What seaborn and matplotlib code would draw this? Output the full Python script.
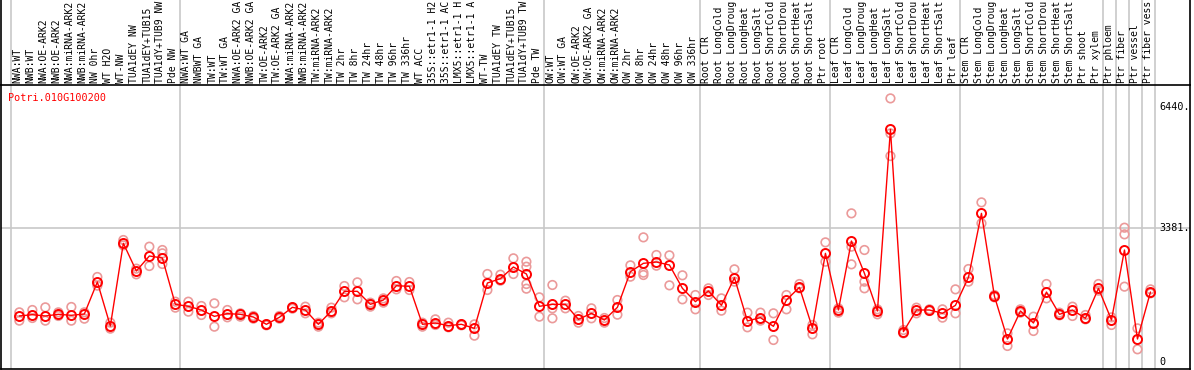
import numpy as np
import pandas as pd
import matplotlib
matplotlib.use("Agg")
import matplotlib.pyplot as plt
import seaborn as sns

sns.set_style("white")
plt.rcParams["font.family"] = ["DejaVu Sans Mono"]

gene = "Potri.010G100200"

# sample names as they appear (cut to the width of the label strip)
samples = [
    "NWA:WT", "NWB:WT", "NWA:OE-ARK2", "NWB:OE-ARK2", "NWA:miRNA-ARK2", "NWB:miRNA-ARK2",
    "NW 0hr", "WT H2O", "WT-NW", "TUA1dEY NW", "TUA1dEY+TUB15", "TUA1dY+TUB9 NW", "Pde NW",
    "NWA:WT GA", "NWBWT GA", "TW:WT", "TW:WT GA", "NWA:OE-ARK2 GA", "NWB:OE-ARK2 GA",
    "TW:OE-ARK2", "TW:OE-ARK2 GA", "NWA:miRNA-ARK2", "NWB:miRNA-ARK2", "TW:miRNA-ARK2",
    "TW:miRNA-ARK2", "TW 2hr", "TW 8hr", "TW 24hr", "TW 48hr", "TW 96hr", "TW 336hr",
    "WT ACC", "35S::etr1-1 H2", "35S::etr1-1 AC", "LMX5::etr1-1 H", "LMX5::etr1-1 A",
    "WT-TW", "TUA1dEY TW", "TUA1dEY+TUB15", "TUA1dY+TUB9 TW", "Pde TW",
    "OW:WT", "OW:WT GA", "OW:OE-ARK2", "OW:OE-ARK2 GA", "OW:miRNA-ARK2", "OW:miRNA-ARK2",
    "OW 2hr", "OW 8hr", "OW 24hr", "OW 48hr", "OW 96hr", "OW 336hr",
    "Root CTR", "Root LongCold", "Root LongDroug", "Root LongHeat", "Root LongSalt",
    "Root ShortCold", "Root ShortDrou", "Root ShortHeat", "Root ShortSalt", "Ptr root",
    "Leaf CTR", "Leaf LongCold", "Leaf LongDroug", "Leaf LongHeat", "Leaf LongSalt",
    "Leaf ShortCold", "Leaf ShortDrou", "Leaf ShortHeat", "Leaf ShortSalt", "Ptr leaf",
    "Stem CTR", "Stem LongCold", "Stem LongDroug", "Stem LongHeat", "Stem LongSalt",
    "Stem ShortCold", "Stem ShortDrou", "Stem ShortHeat", "Stem ShortSalt", "Ptr shoot",
    "Ptr xylem", "Ptr phloem", "Ptr fiber", "Ptr vessel", "Ptr fiber vess",
]

# mean expression per sample
means = [
    1161, 1194, 1161, 1203, 1178, 1211, 2019, 908, 2995, 2296, 2675, 2624, 1455,
    1405, 1312, 1152, 1220, 1203, 1135, 951, 1127, 1380, 1312, 951, 1287, 1783, 1783,
    1455, 1564, 1925, 1909, 951, 984, 917, 951, 849, 1993, 2103, 2397, 2221, 1405,
    1455, 1455, 1076, 1228, 1060, 1380, 2279, 2490, 2523, 2448, 1859, 1522,
    1792, 1430, 2128, 1035, 1119, 900, 1564, 1884, 858, 2742,
    1312, 3053, 2237, 1287, 5871, 766, 1312, 1312, 1228, 1430,
    2136, 3751, 1657, 580, 1287, 984, 1766, 1203, 1312, 1102, 1859,
    1060, 2826, 580, 1766,
]

# individual replicates per sample
replicates = [
    [1253, 1043], [1312, 1110], [1379, 1043], [1253, 1161], [1388, 1043], [1253, 1093],
    [2145, 1926], [992, 841], [3078, 2944], [2355, 2212], [2910, 2422], [2826, 2473, 2742],
    [1522, 1371],
    [1522, 1270], [1413, 1186], [1480, 891], [1312, 1127], [1228, 1144], [1161, 1093],
    [950, 925], [1161, 1093], [1379, 1346], [1396, 1228], [891, 992], [1371, 1228],
    [1917, 1632], [2010, 1581], [1497, 1396], [1606, 1497], [2044, 1833], [2018, 1817],
    [992, 891], [1076, 934], [992, 875], [950, 925], [950, 664], [2220, 1817],
    [2203, 2052], [2616, 2220], [2531, 2405, 1968, 1850], [1632, 1144],
    [1943, 1354, 1102], [1547, 1354], [1161, 992], [1354, 1102], [1110, 992], [1564, 1194],
    [2439, 2153], [3145, 2195, 2254], [2700, 2430], [2691, 1934], [2187, 1581], [1690, 1329],
    [1859, 1690], [1606, 1295], [2338, 2027], [1245, 875], [1245, 1043], [1228, 555],
    [1690, 1329], [1968, 1859], [934, 698], [3019, 2531],
    [1354, 1245], [3751, 2910, 2464], [2826, 2027, 1859], [1329, 1203], [6652, 5769, 5197],
    [807, 723], [1371, 1228], [1329, 1287], [1329, 1119], [1833, 1228],
    [2346, 2027], [4028, 3499], [1690, 1632], [723, 404], [1329, 1245], [1144, 782],
    [1968, 1606], [1245, 1177], [1396, 1161], [1186, 1076], [1968, 1800],
    [1127, 934], [3389, 3221, 1901], [849, 320], [1833, 1732],
]

# number of samples in each block between the grey separators
group_sizes = [13, 28, 12, 10, 10, 11, 1, 1, 1, 1]

ytick_values = [0, 3381, 6440]
ytick_labels = ["0", "3381.", "6440."]

offset = 0.66
mean_df = pd.DataFrame({"pos": np.arange(len(samples)) + offset, "value": means})
rep_rows = []
for i, reps in enumerate(replicates):
    for r in reps:
        rep_rows.append({"pos": i + offset, "value": r})
rep_df = pd.DataFrame(rep_rows)

fig = plt.figure(figsize=(11.94, 3.70), dpi=100)
ax = fig.add_axes([1 / 1194, 1 / 370, 1189 / 1194, 284 / 370])

sns.scatterplot(data=rep_df, x="pos", y="value", ax=ax, marker="o", s=38,
                facecolors="none", edgecolor="#eb9a9a", linewidth=1.2, zorder=2)
sns.lineplot(data=mean_df, x="pos", y="value", ax=ax, color="red", linewidth=1.0,
             marker="o", markersize=6.5, markerfacecolor="none", markeredgecolor="red",
             markeredgewidth=1.4, zorder=3)

ax.set_xlim(-0.75, 90.7)
ax.set_ylim(-177, 6990)
ax.set_xticks([])
ax.set_yticks([])
ax.set_xlabel("")
ax.set_ylabel("")
for s in ax.spines.values():
    s.set_color("black")
    s.set_linewidth(1.2)

# side borders carry on up through the label strip
for xb in [-0.75, 90.7]:
    ax.plot([xb, xb], [1, 1.31], transform=ax.get_xaxis_transform(),
            color="black", linewidth=1.2, clip_on=False)

# horizontal reference line
ax.axhline(3381, color="#c8c8c8", linewidth=1.2, zorder=1)

# group separators, through the label area as well
bounds = np.concatenate([[0], np.cumsum(group_sizes)])
for b in bounds:
    ax.axvline(b, color="#c8c8c8", linewidth=1.2, zorder=1)
    ax.plot([b, b], [1, 1.31], transform=ax.get_xaxis_transform(),
            color="#c8c8c8", linewidth=1.2, clip_on=False)

for i, name in enumerate(samples):
    ax.text(i + 0.5, 1.006, name, transform=ax.get_xaxis_transform(), rotation=90,
            ha="center", va="bottom", fontsize=7.0, color="black", clip_on=False)

for v, lab in zip(ytick_values, ytick_labels):
    ax.text(88.35, v, lab, ha="left", va="center", fontsize=7.3, color="black")

ax.text(0.006, 0.955, gene, transform=ax.transAxes, ha="left", va="center",
        fontsize=7.3, color="red")

fig.savefig("out.png", dpi=100)
